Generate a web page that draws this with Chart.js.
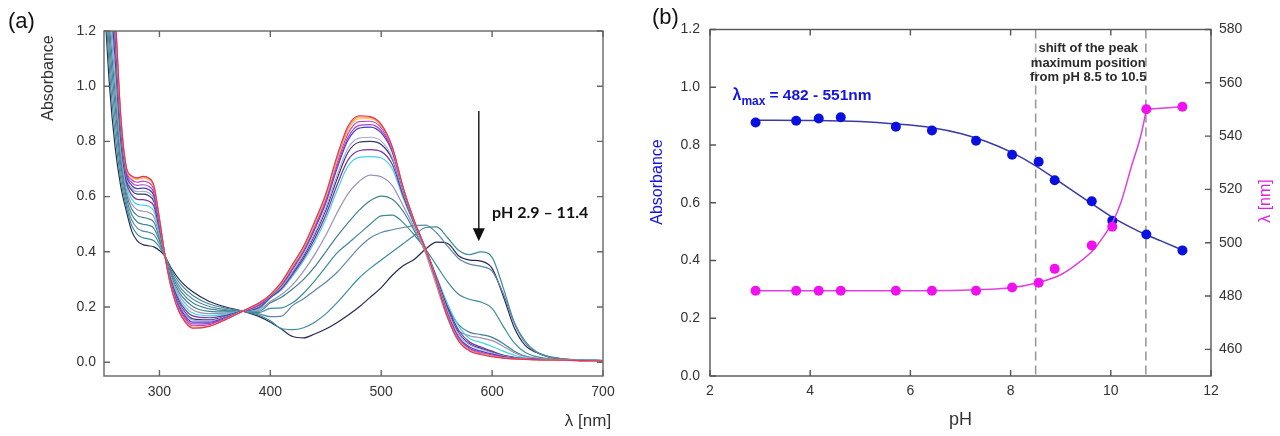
<!DOCTYPE html>
<html>
<head>
<meta charset="utf-8">
<script src="https://cdn.jsdelivr.net/npm/chart.js@4.4.1/dist/chart.umd.min.js"></script>
<style>
  html, body { margin: 0; padding: 0; background: #fff; }
  #wrap { position: relative; width: 1280px; height: 436px; }
  .panel { position: absolute; top: 0; width: 640px; height: 436px; }
</style>
</head>
<body>
<div id="wrap">
  <div class="panel" style="left:0"><canvas id="chartA" width="640" height="436"></canvas></div>
  <div class="panel" style="left:640px"><canvas id="chartB" width="640" height="436"></canvas></div>
</div>
<script>
// (a) UV-vis spectra, one array per pH step (acid -> alkaline)
const wavelengths = [250, 255, 260, 265, 270, 275, 280, 285, 290, 295, 300, 305, 310, 315, 320, 330, 345, 360, 375, 390,
  400, 410, 420, 430, 440, 450, 460, 470, 480, 490, 500, 510, 520, 530, 540, 550, 560, 570, 580, 590, 600, 610, 620, 630, 640, 650, 665, 680, 700];

const spec01 = [1.90, 1.55, 1.27, 0.90, 0.71, 0.675, 0.668, 0.673, 0.668, 0.64, 0.52, 0.385, 0.28, 0.21, 0.165, 0.123, 0.13, 0.155, 0.185, 0.215,
  0.245, 0.29, 0.355, 0.42, 0.51, 0.61, 0.745, 0.855, 0.893, 0.89, 0.862, 0.78, 0.63, 0.51, 0.41, 0.29, 0.16, 0.075, 0.04, 0.028, 0.02, 0.015, 0.012, 0.01, 0.009, 0.008, 0.007, 0.006, 0.005];
const spec02 = [1.89, 1.54, 1.265, 0.897, 0.708, 0.673, 0.666, 0.671, 0.666, 0.638, 0.519, 0.385, 0.281, 0.211, 0.166, 0.124, 0.131, 0.155, 0.185, 0.215,
  0.245, 0.288, 0.352, 0.418, 0.506, 0.605, 0.738, 0.848, 0.889, 0.887, 0.86, 0.779, 0.63, 0.51, 0.41, 0.29, 0.161, 0.076, 0.041, 0.029, 0.021, 0.016, 0.012, 0.01, 0.009, 0.008, 0.007, 0.006, 0.005];
const spec03 = [1.886, 1.536, 1.258, 0.894, 0.706, 0.67, 0.662, 0.667, 0.662, 0.634, 0.517, 0.385, 0.282, 0.213, 0.168, 0.126, 0.132, 0.156, 0.185, 0.214,
  0.243, 0.285, 0.348, 0.413, 0.5, 0.598, 0.73, 0.84, 0.882, 0.882, 0.856, 0.777, 0.629, 0.51, 0.41, 0.29, 0.163, 0.078, 0.042, 0.03, 0.022, 0.016, 0.012, 0.01, 0.009, 0.008, 0.007, 0.006, 0.005];
const spec04 = [1.86, 1.51, 1.236, 0.882, 0.699, 0.661, 0.652, 0.656, 0.651, 0.624, 0.512, 0.385, 0.285, 0.217, 0.174, 0.132, 0.136, 0.158, 0.185, 0.212,
  0.242, 0.283, 0.345, 0.41, 0.495, 0.592, 0.72, 0.828, 0.872, 0.873, 0.849, 0.773, 0.628, 0.51, 0.41, 0.292, 0.166, 0.08, 0.045, 0.032, 0.023, 0.017, 0.013, 0.011, 0.009, 0.008, 0.007, 0.006, 0.005];
const spec05 = [1.832, 1.484, 1.211, 0.869, 0.691, 0.651, 0.641, 0.643, 0.638, 0.613, 0.506, 0.385, 0.288, 0.223, 0.18, 0.139, 0.141, 0.16, 0.185, 0.209,
  0.24, 0.28, 0.34, 0.404, 0.488, 0.584, 0.708, 0.814, 0.858, 0.861, 0.839, 0.767, 0.625, 0.508, 0.41, 0.294, 0.17, 0.085, 0.05, 0.036, 0.026, 0.018, 0.014, 0.011, 0.009, 0.008, 0.007, 0.006, 0.005];
const spec06 = [1.803, 1.457, 1.187, 0.856, 0.683, 0.641, 0.629, 0.631, 0.626, 0.602, 0.5, 0.385, 0.291, 0.228, 0.186, 0.145, 0.145, 0.163, 0.185, 0.207,
  0.24, 0.278, 0.337, 0.4, 0.482, 0.577, 0.7, 0.804, 0.848, 0.852, 0.831, 0.761, 0.622, 0.507, 0.41, 0.296, 0.175, 0.09, 0.054, 0.04, 0.029, 0.02, 0.015, 0.012, 0.01, 0.009, 0.007, 0.006, 0.005];
const spec07 = [1.775, 1.429, 1.162, 0.843, 0.675, 0.631, 0.618, 0.619, 0.614, 0.591, 0.495, 0.385, 0.294, 0.233, 0.193, 0.152, 0.15, 0.165, 0.185, 0.204,
  0.238, 0.272, 0.328, 0.39, 0.468, 0.56, 0.675, 0.775, 0.812, 0.815, 0.801, 0.742, 0.612, 0.503, 0.41, 0.3, 0.185, 0.1, 0.062, 0.047, 0.034, 0.023, 0.016, 0.012, 0.01, 0.009, 0.007, 0.006, 0.005];
const spec08 = [1.752, 1.407, 1.143, 0.832, 0.668, 0.623, 0.609, 0.609, 0.604, 0.582, 0.49, 0.385, 0.297, 0.237, 0.198, 0.157, 0.153, 0.167, 0.185, 0.202,
  0.236, 0.27, 0.325, 0.385, 0.46, 0.55, 0.662, 0.76, 0.797, 0.8, 0.789, 0.735, 0.608, 0.502, 0.41, 0.302, 0.19, 0.105, 0.066, 0.05, 0.036, 0.024, 0.017, 0.012, 0.01, 0.009, 0.007, 0.006, 0.005];
const spec09 = [1.706, 1.363, 1.103, 0.812, 0.656, 0.607, 0.59, 0.589, 0.584, 0.565, 0.481, 0.385, 0.302, 0.246, 0.208, 0.168, 0.161, 0.17, 0.185, 0.198,
  0.234, 0.266, 0.318, 0.376, 0.447, 0.533, 0.64, 0.732, 0.766, 0.77, 0.763, 0.716, 0.6, 0.5, 0.41, 0.305, 0.198, 0.115, 0.072, 0.055, 0.04, 0.026, 0.018, 0.013, 0.01, 0.009, 0.007, 0.006, 0.005];
const spec10 = [1.66, 1.319, 1.064, 0.791, 0.643, 0.591, 0.572, 0.569, 0.565, 0.547, 0.472, 0.385, 0.307, 0.254, 0.218, 0.178, 0.168, 0.174, 0.185, 0.194,
  0.232, 0.262, 0.312, 0.368, 0.436, 0.518, 0.62, 0.71, 0.742, 0.745, 0.74, 0.7, 0.592, 0.497, 0.41, 0.31, 0.21, 0.13, 0.085, 0.072, 0.057, 0.04, 0.025, 0.016, 0.012, 0.01, 0.008, 0.007, 0.006];
const spec11 = [1.609, 1.27, 1.02, 0.767, 0.628, 0.573, 0.552, 0.547, 0.543, 0.527, 0.461, 0.385, 0.313, 0.264, 0.229, 0.19, 0.176, 0.178, 0.185, 0.19,
  0.22, 0.245, 0.28, 0.33, 0.39, 0.46, 0.54, 0.61, 0.655, 0.678, 0.672, 0.64, 0.565, 0.485, 0.395, 0.275, 0.16, 0.112, 0.095, 0.088, 0.078, 0.058, 0.034, 0.02, 0.013, 0.01, 0.008, 0.007, 0.006];
const spec12 = [1.558, 1.22, 0.976, 0.744, 0.614, 0.555, 0.531, 0.525, 0.52, 0.507, 0.451, 0.385, 0.319, 0.273, 0.24, 0.202, 0.184, 0.182, 0.185, 0.185,
  0.215, 0.235, 0.265, 0.3, 0.345, 0.4, 0.455, 0.505, 0.55, 0.585, 0.602, 0.59, 0.545, 0.475, 0.4, 0.3, 0.2, 0.135, 0.108, 0.1, 0.09, 0.068, 0.04, 0.022, 0.014, 0.01, 0.008, 0.007, 0.006];
const spec13 = [1.501, 1.165, 0.927, 0.718, 0.598, 0.535, 0.508, 0.5, 0.496, 0.485, 0.44, 0.385, 0.326, 0.284, 0.253, 0.215, 0.193, 0.187, 0.185, 0.18,
  0.195, 0.197, 0.215, 0.25, 0.295, 0.345, 0.395, 0.43, 0.465, 0.5, 0.53, 0.533, 0.505, 0.46, 0.41, 0.35, 0.29, 0.245, 0.227, 0.218, 0.195, 0.13, 0.07, 0.035, 0.02, 0.013, 0.009, 0.007, 0.006];
const spec14 = [1.444, 1.11, 0.878, 0.692, 0.582, 0.515, 0.486, 0.475, 0.471, 0.462, 0.428, 0.385, 0.332, 0.294, 0.265, 0.229, 0.202, 0.191, 0.185, 0.175,
  0.165, 0.167, 0.205, 0.23, 0.26, 0.29, 0.325, 0.37, 0.415, 0.45, 0.47, 0.48, 0.488, 0.495, 0.497, 0.468, 0.42, 0.375, 0.355, 0.347, 0.33, 0.25, 0.14, 0.07, 0.036, 0.02, 0.011, 0.008, 0.006];
const spec15 = [1.387, 1.055, 0.829, 0.666, 0.566, 0.495, 0.463, 0.451, 0.447, 0.44, 0.417, 0.385, 0.339, 0.305, 0.278, 0.242, 0.211, 0.196, 0.185, 0.17,
  0.15, 0.122, 0.118, 0.125, 0.145, 0.175, 0.215, 0.26, 0.305, 0.34, 0.37, 0.4, 0.43, 0.46, 0.488, 0.49, 0.45, 0.405, 0.39, 0.4, 0.38, 0.27, 0.145, 0.075, 0.038, 0.022, 0.012, 0.008, 0.006];
const spec16 = [1.33, 1.0, 0.78, 0.64, 0.55, 0.475, 0.44, 0.426, 0.422, 0.418, 0.405, 0.384, 0.345, 0.315, 0.29, 0.255, 0.22, 0.2, 0.185, 0.165,
  0.145, 0.12, 0.093, 0.088, 0.102, 0.12, 0.143, 0.17, 0.2, 0.235, 0.27, 0.315, 0.35, 0.373, 0.41, 0.435, 0.43, 0.385, 0.37, 0.366, 0.34, 0.24, 0.125, 0.06, 0.035, 0.02, 0.011, 0.008, 0.006];

const spectra = [spec01, spec02, spec03, spec04, spec05, spec06, spec07, spec08, spec09, spec10, spec11, spec12, spec13, spec14, spec15, spec16];
const specColors = ['#e2336b', '#f39a3c', '#e9c245', '#c83cc4', '#9b45d0', '#4b3cc0', '#aaaad8', '#34386a',
  '#7a30a8', '#3fd6e2', '#9a92b6', '#41808e', '#3c8a94', '#5f86a6', '#3a8c9e', '#262a52'];

const xTicksA = [300, 400, 500, 600, 700];
const yTicksA = [0, 0.2, 0.4, 0.6, 0.8, 1.0, 1.2];
const arrowLambda = 588;
const arrowFromTo = [0.91, 0.438];

// (b) absorbance and peak position vs pH
const phPoints = [2.91, 3.72, 4.17, 4.61, 5.71, 6.43, 7.31, 8.03, 8.56, 8.88, 9.62, 10.03, 10.71, 11.43];
const absPoints = [0.878, 0.884, 0.892, 0.896, 0.863, 0.850, 0.815, 0.766, 0.742, 0.678, 0.605, 0.538, 0.490, 0.435];
const lambdaPoints = [482, 482, 482, 482, 482, 482, 482, 483.2, 485, 490.2, 499, 506, 550.1, 551];

const blueFitPH = [2.91, 4.0, 5.0, 5.7, 6.43, 7.0, 7.5, 8.0, 8.5, 9.0, 9.5, 10.0, 10.5, 10.7, 11.0, 11.43];
const blueFitAbs = [0.886, 0.885, 0.881, 0.873, 0.86, 0.84, 0.813, 0.776, 0.728, 0.67, 0.611, 0.553, 0.506, 0.49, 0.468, 0.436];
const magFitPH = [2.91, 5.0, 7.0, 8.0, 8.5, 9.0, 9.3, 9.66, 9.86, 10.03, 10.2, 10.41, 10.61, 10.71];
const magFitNm = [482, 482, 482.2, 483.1, 484.8, 488, 491.7, 497.5, 502.5, 507.5, 515, 528.5, 541, 550.1];
const magTopPH = [10.71, 11.43];
const magTopNm = [550.1, 551];

const dashPH = [8.5, 10.7];
const xTicksB = [2, 4, 6, 8, 10, 12];
const yTicksB = [0, 0.2, 0.4, 0.6, 0.8, 1.0, 1.2];
const y2TicksB = [460, 480, 500, 520, 540, 560, 580];

const FONT = "'Liberation Sans', Arial, sans-serif";
Chart.defaults.font.family = FONT;
Chart.defaults.color = '#333';

const xy = (xs, ys) => xs.map((x, i) => ({ x, y: ys[i] }));
const fixTicks = values => scale => { scale.ticks = values.map(v => ({ value: v })); };
const noGrid = { display: false, drawTicks: false };

function vText(ctx, text, x, y, font, color) {
  ctx.save();
  ctx.translate(x, y);
  ctx.rotate(-Math.PI / 2);
  ctx.font = font;
  ctx.fillStyle = color;
  ctx.textAlign = 'center';
  ctx.textBaseline = 'middle';
  ctx.fillText(text, 0, 0);
  ctx.restore();
}

function hText(ctx, text, x, y, font, color, align) {
  ctx.font = font;
  ctx.fillStyle = color;
  ctx.textAlign = align || 'center';
  ctx.textBaseline = 'middle';
  ctx.fillText(text, x, y);
}

// box round the plot with short ticks pointing inwards
const frameTicks = {
  id: 'frameTicks',
  afterDraw(chart, args, o) {
    const { ctx, chartArea: a, scales } = chart;
    const L = 6;
    ctx.save();
    ctx.strokeStyle = o.color || '#555';
    ctx.lineWidth = 1.4;
    ctx.beginPath();
    scales.x.ticks.forEach(t => {
      const px = scales.x.getPixelForValue(t.value);
      ctx.moveTo(px, a.bottom); ctx.lineTo(px, a.bottom - L);
      ctx.moveTo(px, a.top); ctx.lineTo(px, a.top + L);
    });
    const yl = scales[o.left], yr = scales[o.right];
    yl.ticks.forEach(t => {
      const py = yl.getPixelForValue(t.value);
      ctx.moveTo(a.left, py); ctx.lineTo(a.left + L, py);
    });
    yr.ticks.forEach(t => {
      const py = yr.getPixelForValue(t.value);
      ctx.moveTo(a.right, py); ctx.lineTo(a.right - L, py);
    });
    ctx.stroke();
    ctx.strokeRect(a.left, a.top, a.right - a.left, a.bottom - a.top);
    ctx.restore();
  }
};

const notesA = {
  id: 'notesA',
  afterDraw(chart) {
    const { ctx, scales: { x, y } } = chart;
    ctx.save();
    const ax = x.getPixelForValue(arrowLambda);
    const y0 = y.getPixelForValue(arrowFromTo[0]);
    const y1 = y.getPixelForValue(arrowFromTo[1]);
    ctx.strokeStyle = '#111';
    ctx.fillStyle = '#111';
    ctx.lineWidth = 1.4;
    ctx.beginPath();
    ctx.moveTo(ax, y0); ctx.lineTo(ax, y1 - 12);
    ctx.stroke();
    ctx.beginPath();
    ctx.moveTo(ax - 6, y1 - 13); ctx.lineTo(ax + 6, y1 - 13); ctx.lineTo(ax, y1);
    ctx.closePath();
    ctx.fill();
    hText(ctx, 'pH 2.9 \u2013 11.4', x.getPixelForValue(600), y.getPixelForValue(0.54), "bold 16px Lato, sans-serif", '#111', 'left');
    hText(ctx, '(a)', 8, 22, '22px ' + FONT, '#111', 'left');
    vText(ctx, 'Absorbance', 49, 78, '16px ' + FONT, '#333');
    hText(ctx, '\u03bb [nm]', 588, 421, '17px ' + FONT, '#333');
    ctx.restore();
  }
};

const notesB = {
  id: 'notesB',
  beforeDatasetsDraw(chart) {
    const { ctx, chartArea: a, scales: { x } } = chart;
    ctx.save();
    ctx.strokeStyle = '#9a9a9a';
    ctx.lineWidth = 1.6;
    ctx.setLineDash([9, 5]);
    dashPH.forEach(v => {
      const px = x.getPixelForValue(v);
      ctx.beginPath();
      ctx.moveTo(px, a.top); ctx.lineTo(px, a.bottom);
      ctx.stroke();
    });
    ctx.restore();
  },
  afterDraw(chart) {
    const { ctx, chartArea: a, scales: { x, y } } = chart;
    ctx.save();
    const cx = x.getPixelForValue(9.55);
    ['shift of the peak', 'maximum position', 'from pH 8.5 to 10.5'].forEach((s, i) => {
      hText(ctx, s, cx, a.top + 19 + i * 14.5, 'bold 13px ' + FONT, '#2a2a2a');
    });
    // lambda_max label with subscript
    const blue = '#1414e0';
    let lx = x.getPixelForValue(2.45);
    const base = y.getPixelForValue(0.955);
    ctx.fillStyle = blue;
    ctx.textAlign = 'left';
    ctx.textBaseline = 'alphabetic';
    ctx.font = 'bold 16px ' + FONT;
    ctx.fillText('\u03bb', lx, base);
    lx += ctx.measureText('\u03bb').width;
    ctx.font = 'bold 12px ' + FONT;
    ctx.fillText('max', lx, base + 5);
    lx += ctx.measureText('max').width + 4;
    ctx.font = 'bold 15.5px ' + FONT;
    ctx.fillText('= 482 - 551nm', lx, base);

    hText(ctx, '(b)', 12, 18, '22px ' + FONT, '#111', 'left');
    vText(ctx, 'Absorbance', 18, 182, '16px ' + FONT, blue);
    vText(ctx, '\u03bb [nm]', 626, 201, '16px ' + FONT, '#e020e0');
    hText(ctx, 'pH', (a.left + a.right) / 2, 420, '18px ' + FONT, '#333');
    ctx.restore();
  }
};

new Chart(document.getElementById('chartA'), {
  type: 'line',
  data: {
    datasets: spectra.map((s, i) => ({
      data: xy(wavelengths, s),
      borderColor: specColors[i],
      borderWidth: 1.2,
      pointRadius: 0,
      cubicInterpolationMode: 'monotone',
      fill: false
    }))
  },
  options: {
    responsive: false,
    animation: false,
    layout: { padding: { top: 31, right: 37, left: 0, bottom: 0 } },
    plugins: {
      legend: { display: false },
      tooltip: { enabled: false },
      frameTicks: { left: 'y', right: 'y', color: '#666' }
    },
    scales: {
      x: {
        type: 'linear', min: 250, max: 700,
        afterBuildTicks: fixTicks(xTicksA),
        afterFit: s => { s.height = 60; },
        grid: noGrid, border: { display: false },
        ticks: { padding: 8, font: { size: 14 }, color: '#333', maxRotation: 0, autoSkip: false }
      },
      y: {
        min: -0.05, max: 1.2,
        afterBuildTicks: fixTicks(yTicksA),
        afterFit: s => { s.width = 104; },
        grid: noGrid, border: { display: false },
        ticks: { padding: 8, font: { size: 14 }, color: '#333', autoSkip: false, callback: v => v.toFixed(1) }
      }
    }
  },
  plugins: [frameTicks, notesA]
});

new Chart(document.getElementById('chartB'), {
  type: 'line',
  data: {
    datasets: [
      { data: xy(phPoints, lambdaPoints), yAxisID: 'y2', showLine: false, pointRadius: 5, pointBorderWidth: 0, pointBackgroundColor: '#f010f0' },
      { data: xy(magFitPH, magFitNm), yAxisID: 'y2', borderColor: '#e13fe1', borderWidth: 1.5, pointRadius: 0, cubicInterpolationMode: 'monotone' },
      { data: xy(magTopPH, magTopNm), yAxisID: 'y2', borderColor: '#e13fe1', borderWidth: 1.5, pointRadius: 0 },
      { data: xy(phPoints, absPoints), yAxisID: 'y', showLine: false, pointRadius: 5, pointBorderWidth: 0, pointBackgroundColor: '#0a10e0' },
      { data: xy(blueFitPH, blueFitAbs), yAxisID: 'y', borderColor: '#3a3aa6', borderWidth: 1.5, pointRadius: 0, cubicInterpolationMode: 'monotone' }
    ]
  },
  options: {
    responsive: false,
    animation: false,
    layout: { padding: { top: 29.5, right: 0, left: 0, bottom: 0 } },
    plugins: {
      legend: { display: false },
      tooltip: { enabled: false },
      frameTicks: { left: 'y', right: 'y2', color: '#555' }
    },
    scales: {
      x: {
        type: 'linear', min: 2, max: 12,
        afterBuildTicks: fixTicks(xTicksB),
        afterFit: s => { s.height = 60; },
        grid: noGrid, border: { display: false },
        ticks: { padding: 7, font: { size: 14 }, color: '#333', maxRotation: 0, autoSkip: false }
      },
      y: {
        position: 'left', min: 0, max: 1.2,
        afterBuildTicks: fixTicks(yTicksB),
        afterFit: s => { s.width = 70; },
        grid: noGrid, border: { display: false },
        ticks: { padding: 10, font: { size: 14 }, color: '#333', autoSkip: false, callback: v => v.toFixed(1) }
      },
      y2: {
        position: 'right', min: 450, max: 580,
        afterBuildTicks: fixTicks(y2TicksB),
        afterFit: s => { s.width = 69; },
        grid: noGrid, border: { display: false },
        ticks: { padding: 8, font: { size: 14 }, color: '#333', autoSkip: false }
      }
    }
  },
  plugins: [frameTicks, notesB]
});
</script>
</body>
</html>
